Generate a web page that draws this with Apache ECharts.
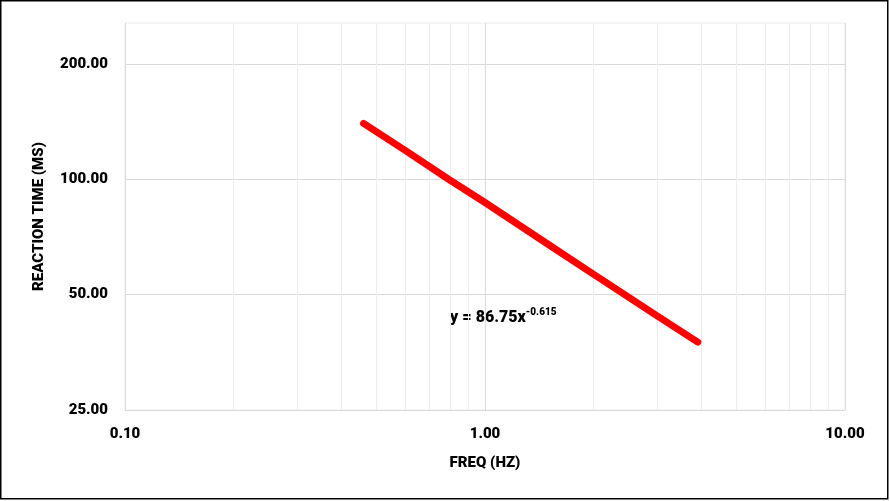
<!DOCTYPE html>
<html>
<head>
<meta charset="utf-8">
<script src="https://cdn.jsdelivr.net/npm/echarts@6/dist/echarts.min.js"></script>
<style>
  html, body { margin: 0; padding: 0; background: #fff; }
  #chart { width: 890px; height: 501px; }
</style>
</head>
<body>
<div id="chart"></div>
<script>
// trend line points (freq Hz, reaction time ms)
const freqs = [0.46, 0.6, 0.8, 1.0, 1.5, 2.0, 3.0, 3.9];
const times = [140, 119, 99.5, 87, 67.6, 56.6, 44.1, 37.6];

const xTicks = [0.1, 0.2, 0.3, 0.4, 0.5, 0.6, 0.7, 0.8, 0.9, 1, 2, 3, 4, 5, 6, 7, 8, 9, 10];
const xLabels = [0.1, 1, 10];
const yTicks = [25, 50, 100, 200];

const fontFam = 'Roboto, "Liberation Sans", sans-serif';
const points = freqs.map((f, i) => [f, times[i]]);

const chart = echarts.init(document.getElementById('chart'));
chart.setOption({
  animation: false,
  grid: {
    left: 125, right: 45, top: 23, bottom: 91,
    show: true, borderColor: '#ececec', borderWidth: 1
  },
  xAxis: {
    type: 'log',
    logBase: 10,
    min: 0.1,
    max: 10,
    name: 'FREQ (HZ)',
    nameLocation: 'middle',
    nameGap: 46,
    nameTextStyle: { color: '#000', fontSize: 15, fontWeight: 900, fontFamily: fontFam },
    axisLine: { show: true, lineStyle: { color: '#d9d9d9', width: 1 } },
    axisTick: { show: false, customValues: xTicks },
    axisLabel: {
      customValues: xLabels,
      margin: 17,
      color: '#000', fontSize: 15, fontWeight: 900, fontFamily: fontFam,
      formatter: v => Number(v).toFixed(2)
    },
    splitLine: {
      show: true,
      lineStyle: {
        width: 1,
        color: ['#d9d9d9', '#ececec', '#ececec', '#ececec', '#ececec', '#ececec', '#ececec', '#ececec', '#ececec']
      }
    }
  },
  yAxis: {
    type: 'log',
    logBase: 2,
    min: 25,
    max: 256,
    name: 'REACTION TIME (MS)',
    nameLocation: 'middle',
    nameRotate: 90,
    nameGap: 78,
    nameTextStyle: { color: '#000', fontSize: 15, fontWeight: 900, fontFamily: fontFam },
    axisLine: { show: true, lineStyle: { color: '#d9d9d9', width: 1 } },
    axisTick: { show: false, customValues: yTicks },
    axisLabel: {
      customValues: yTicks,
      margin: 17,
      color: '#000', fontSize: 15, fontWeight: 900, fontFamily: fontFam,
      formatter: v => Number(v).toFixed(2)
    },
    splitLine: { show: true, lineStyle: { color: '#d9d9d9', width: 1 } }
  },
  graphic: [
    {
      type: 'rect',
      shape: { x: 0.75, y: 0.75, width: 887, height: 498 },
      style: { fill: 'none', stroke: '#000', lineWidth: 1.5 },
      silent: true
    },
    {
      type: 'text',
      left: 450,
      top: 307,
      style: {
        text: '{a|y = 86.75x}{b|-0.615}',
        rich: {
          a: { fontSize: 16, fontWeight: 900, fill: '#000', fontFamily: fontFam, lineHeight: 22 },
          b: { fontSize: 10, fontWeight: 900, fill: '#000', fontFamily: fontFam, verticalAlign: 'top', lineHeight: 22, padding: [0, 0, 10, 0] }
        }
      }
    }
  ],
  series: [
    {
      type: 'line',
      data: points,
      symbol: 'none',
      lineStyle: { color: '#ff0000', width: 7, cap: 'round', join: 'round' }
    }
  ]
});
</script>
</body>
</html>
